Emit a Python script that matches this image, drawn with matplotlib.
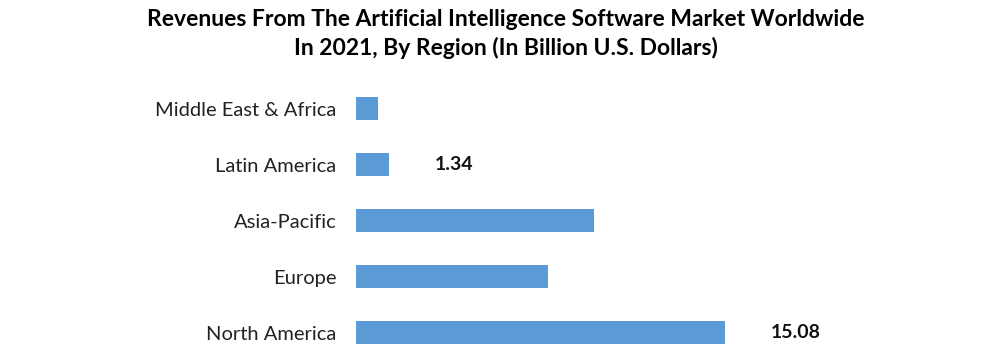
import matplotlib
matplotlib.use("Agg")
import matplotlib.pyplot as plt

regions = ["North America", "Europe", "Asia-Pacific", "Latin America", "Middle East & Africa"]
revenue = [15.08, 7.85, 9.73, 1.35, 0.90]
shown_labels = {"North America": "15.08", "Latin America": "1.34"}

plt.rcParams["font.family"] = ["Lato", "DejaVu Sans"]

fig = plt.figure(figsize=(10.07, 3.61), dpi=100)
ax = fig.add_axes([356 / 1007, 0, 651 / 1007, 280.5 / 361])

ypos = list(range(len(regions)))
ax.barh(ypos, revenue, height=0.41, color="#5B9BD5")
ax.set_xlim(0, 651 / 24.47)
ax.set_ylim(-0.5, 4.5)
ax.set_yticks(ypos)
ax.set_yticklabels(regions, fontsize=14.5, color="#222222")
ax.tick_params(axis="y", length=0, pad=14)
ax.set_xticks([])
for s in ax.spines.values():
    s.set_visible(False)

for y, name, v in zip(ypos, regions, revenue):
    if name in shown_labels:
        ax.annotate(shown_labels[name], (v, y), xytext=(33, 0), textcoords="offset points",
                    va="center", ha="left", fontsize=14, fontweight="bold", color="#111111")

fig.text(0.502, 1 - 20 / 361, "Revenues From The Artificial Intelligence Software Market Worldwide",
         ha="center", va="center", fontsize=16.5, fontweight="bold")
fig.text(0.502, 1 - 48 / 361, "In 2021, By Region (In Billion U.S. Dollars)",
         ha="center", va="center", fontsize=16.5, fontweight="bold")

fig.savefig("out.png", dpi=100)
